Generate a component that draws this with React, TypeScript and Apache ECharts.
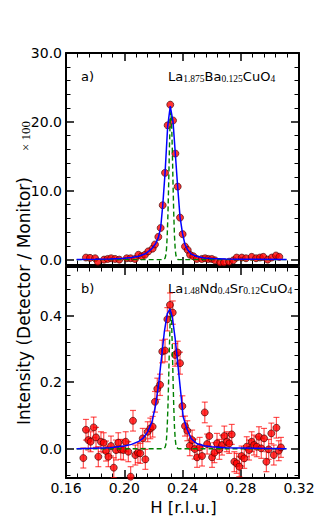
import React, { useEffect, useRef } from 'react';
import * as echarts from 'echarts';

// ---- Panel a) La1.875Ba0.125CuO4 (intensity x100) ----
const topH = [0.1737,0.1765,0.1800,0.1818,0.1861,0.1886,0.1910,0.1937,0.1966,0.2017,0.2044,0.2074,0.2097,0.2120,0.2142,0.2165,0.2195,0.2211,0.2234,0.2250,0.2264,0.2280,0.2298,0.2316,0.2335,0.2351,0.2367,0.2383,0.2401,0.2417,0.2436,0.2452,0.2474,0.2498,0.2532,0.2555,0.2577,0.2601,0.2623,0.2658,0.2685,0.2720,0.2749,0.2772,0.2807,0.2836,0.2875,0.2905,0.2932,0.2955,0.2985,0.3013,0.3042,0.3065];
const topI = [0.3,0.25,0.2,-0.3,0.0,0.1,0.2,0.1,0.0,0.2,0.2,0.1,0.7,0.5,0.7,1.2,1.6,2.2,3.3,4.6,7.9,12.6,19.5,22.5,20.2,15.4,10.6,6.1,3.7,1.9,1.4,0.7,0.5,0.1,0.1,0.2,0.1,0.1,-0.1,-0.4,-0.4,-0.3,-0.1,0.3,0.3,0.2,0.4,0.2,0.3,0.4,0.0,0.3,0.6,0.4];

const blueTopH = [0.1673,0.180,0.190,0.200,0.205,0.210,0.215,0.219,0.2215,0.2234,0.2250,0.2264,0.2280,0.2298,0.2316,0.2335,0.2351,0.2367,0.2383,0.2400,0.2417,0.2436,0.2460,0.2500,0.2550,0.2600,0.2700,0.2800,0.3115];
const blueTopI = [0.03,0.06,0.10,0.20,0.30,0.50,0.90,1.6,2.3,3.2,4.6,7.8,12.5,19.3,22.3,20.0,15.3,10.5,6.2,3.8,2.2,1.4,0.8,0.45,0.25,0.15,0.08,0.05,0.02];

const greenH = [0.1673,0.227,0.228,0.2285,0.229,0.2295,0.230,0.2305,0.231,0.2315,0.232,0.2325,0.233,0.2335,0.234,0.2345,0.235,0.2355,0.236,0.237,0.3115];
const greenTopI = [0,0,0.2,0.6,1.5,3.4,6.6,11.0,16.0,20.0,21.5,20.0,16.0,11.0,6.6,3.4,1.5,0.6,0.2,0,0];

// ---- Panel b) La1.48Nd0.4Sr0.12CuO4 ----
const botH = [0.1719,0.1737,0.1753,0.1769,0.1790,0.1806,0.1822,0.1840,0.1859,0.1875,0.1891,0.1909,0.1928,0.1943,0.1959,0.1976,0.1994,0.2010,0.2028,0.2044,0.2060,0.2076,0.2094,0.2110,0.2127,0.2145,0.2161,0.2179,0.2195,0.2211,0.2227,0.2246,0.2261,0.2280,0.2296,0.2314,0.2333,0.2349,0.2367,0.2383,0.2399,0.2417,0.2433,0.2450,0.2466,0.2484,0.2500,0.2518,0.2534,0.2553,0.2569,0.2584,0.2603,0.2619,0.2637,0.2653,0.2671,0.2687,0.2704,0.2721,0.2738,0.2756,0.2772,0.2790,0.2806,0.2824,0.2841,0.2857,0.2875,0.2891,0.2910,0.2925,0.2941,0.2960,0.2976,0.2992,0.3010,0.3027,0.3045,0.3061,0.3076];
const botV = [-0.028,0.057,0.026,0.021,0.064,0.034,-0.024,0.021,0.018,-0.007,-0.024,0.008,-0.057,-0.004,0.018,-0.002,-0.004,0.021,-0.009,-0.084,0.084,-0.019,-0.012,-0.014,0.031,-0.032,0.051,0.061,0.066,0.141,0.180,0.192,0.292,0.295,0.389,0.432,0.409,0.282,0.289,0.257,0.128,0.068,0.054,0.009,0.026,-0.001,-0.026,0.004,-0.022,0.109,0.014,0.038,-0.026,-0.012,0.016,-0.002,0.011,0.038,0.021,0.016,0.043,-0.039,-0.044,-0.054,-0.022,-0.029,0.006,-0.004,0.021,0.011,0.006,0.036,0.001,0.031,-0.039,-0.002,0.046,-0.019,0.063,-0.006,0.004];
const botErr = [0.030,0.031,0.030,0.030,0.031,0.030,0.030,0.030,0.030,0.030,0.030,0.030,0.030,0.030,0.030,0.030,0.030,0.030,0.030,0.030,0.031,0.030,0.030,0.030,0.030,0.030,0.030,0.031,0.031,0.031,0.032,0.032,0.034,0.034,0.035,0.036,0.035,0.034,0.034,0.033,0.031,0.030,0.030,0.030,0.030,0.030,0.030,0.030,0.030,0.031,0.030,0.030,0.030,0.030,0.030,0.030,0.030,0.030,0.030,0.030,0.030,0.030,0.030,0.030,0.030,0.030,0.030,0.030,0.030,0.030,0.030,0.030,0.030,0.030,0.030,0.030,0.031,0.030,0.031,0.030,0.030];

const blueBotH = [0.1673,0.190,0.200,0.205,0.210,0.213,0.216,0.219,0.2215,0.2235,0.2255,0.2275,0.2295,0.2314,0.2330,0.2350,0.2370,0.2390,0.2405,0.2430,0.2460,0.2500,0.2550,0.2600,0.2700,0.3115];
const blueBotV = [0.000,0.003,0.008,0.013,0.022,0.032,0.050,0.080,0.130,0.190,0.270,0.350,0.405,0.420,0.395,0.330,0.245,0.160,0.095,0.060,0.030,0.015,0.009,0.006,0.003,0.000];
const greenBotV = [0,0,0.004,0.011,0.029,0.065,0.126,0.21,0.305,0.381,0.41,0.381,0.305,0.21,0.126,0.065,0.029,0.011,0.004,0,0];

// ---- ticks ----
const xMin = 0.16, xMax = 0.32, xStep = 0.04;
const topMajor = [0, 10, 20, 30];
const topMinor = [2, 4, 6, 8, 12, 14, 16, 18, 22, 24, 26, 28];
const botMajor = [0, 0.2, 0.4];
const botMinor = [-0.08, -0.04, 0.04, 0.08, 0.12, 0.16, 0.24, 0.28, 0.32, 0.36, 0.44, 0.48, 0.52];

const SANS = 'DejaVu Sans';
const SERIF = 'Liberation Serif';

function pairs(a: number[], b: number[]) {
  return a.map((v, i) => [v, b[i]]);
}

function xAxesFor(grid: number, labels: boolean) {
  const base = (pos: string, showLab: boolean) => ({
    type: 'value', gridIndex: grid, min: xMin, max: xMax, interval: xStep, position: pos,
    axisLine: { show: true, onZero: false, lineStyle: { color: '#000', width: 2 } },
    axisTick: { show: true, inside: true, length: 8, lineStyle: { color: '#000', width: 1.5 } },
    minorTick: { show: true, splitNumber: 5, length: 4.5, lineStyle: { color: '#000', width: 1 } },
    axisLabel: { show: showLab, fontFamily: SANS, fontSize: 14, color: '#000', margin: 3, showMinLabel: true, showMaxLabel: true, formatter: (v: number) => v.toFixed(2) },
    splitLine: { show: false }, minorSplitLine: { show: false },
  });
  return [base('bottom', labels), base('top', false)];
}

function yAxesFor(grid: number, min: number, max: number, major: number[], minor: number[]) {
  const mk = (pos: string, vals: number[], isMajor: boolean, lab: boolean) => ({
    type: 'value', gridIndex: grid, min, max, position: pos,
    axisLine: { show: isMajor, onZero: false, lineStyle: { color: '#000', width: 2 } },
    axisTick: { show: true, inside: true, customValues: vals, length: isMajor ? 8 : 4.5, lineStyle: { color: '#000', width: isMajor ? 1.5 : 1 } },
    axisLabel: { show: lab, customValues: vals, fontFamily: SANS, fontSize: 14, color: '#000', margin: 4, formatter: (v: number) => v.toFixed(1) },
    splitLine: { show: false },
  });
  return [mk('left', major, true, true), mk('left', minor, false, false), mk('right', major, true, false), mk('right', minor, false, false)];
}

export default function App() {
  const ref = useRef<HTMLDivElement>(null);
  useEffect(() => {
    const chart = echarts.init(ref.current!, null, { renderer: 'svg' });
    const markerStyle = { color: '#ff0000', borderColor: '#3a0000', borderWidth: 0.8 };
    const blue = { color: '#0000ff', width: 1.5 };
    const green = { color: '#008000', width: 1.4, type: [5, 3] as any };
    const option: any = {
      animation: false,
      backgroundColor: '#fff',
      grid: [
        { left: 66, right: 33, top: 53, height: 212, outerBoundsMode: 'none' },
        { left: 66, right: 33, top: 267, height: 211, outerBoundsMode: 'none' },
      ],
      xAxis: [...xAxesFor(0, false), ...xAxesFor(1, true)],
      yAxis: [...yAxesFor(0, -0.78, 30, topMajor, topMinor), ...yAxesFor(1, -0.088, 0.546, botMajor, botMinor)],
      series: [
        { type: 'scatter', xAxisIndex: 0, yAxisIndex: 0, data: pairs(topH, topI), symbolSize: 7, itemStyle: markerStyle, z: 2 },
        { type: 'line', xAxisIndex: 0, yAxisIndex: 0, data: pairs(greenH, greenTopI), showSymbol: false, symbol: 'none', lineStyle: green, z: 3 },
        { type: 'line', xAxisIndex: 0, yAxisIndex: 0, data: pairs(blueTopH, blueTopI), showSymbol: false, symbol: 'none', lineStyle: blue, z: 4 },
        {
          type: 'custom', xAxisIndex: 2, yAxisIndex: 4, clip: true, z: 1,
          data: botH.map((h, i) => [h, botV[i], botErr[i]]),
          encode: { x: 0, y: 1 },
          renderItem: (_p: any, api: any) => {
            const x = api.value(0), y = api.value(1), e = api.value(2);
            const a = api.coord([x, y - e]);
            const b = api.coord([x, y + e]);
            const st = { stroke: 'rgba(255,0,0,0.68)', lineWidth: 1.2 };
            return {
              type: 'group',
              children: [
                { type: 'line', shape: { x1: a[0], y1: a[1], x2: b[0], y2: b[1] }, style: st },
                { type: 'line', shape: { x1: a[0] - 3, y1: a[1], x2: a[0] + 3, y2: a[1] }, style: st },
                { type: 'line', shape: { x1: b[0] - 3, y1: b[1], x2: b[0] + 3, y2: b[1] }, style: st },
              ],
            };
          },
        },
        { type: 'scatter', xAxisIndex: 2, yAxisIndex: 4, data: pairs(botH, botV), symbolSize: 7, itemStyle: markerStyle, z: 2 },
        { type: 'line', xAxisIndex: 2, yAxisIndex: 4, data: pairs(greenH, greenBotV), showSymbol: false, symbol: 'none', lineStyle: green, z: 3 },
        { type: 'line', xAxisIndex: 2, yAxisIndex: 4, data: pairs(blueBotH, blueBotV), showSymbol: false, symbol: 'none', lineStyle: blue, z: 4 },
      ],
      graphic: [
        { type: 'text', x: 81, y: 76, style: { text: 'a)', fontFamily: SANS, fontSize: 13, fill: '#000', verticalAlign: 'middle' } },
        {
          type: 'text', x: 168, y: 68,
          style: {
            text: '{m|La}{s|1.875}{m|Ba}{s|0.125}{m|CuO}{s|4}', fill: '#000', verticalAlign: 'top',
            rich: {
              m: { fontFamily: SANS, fontSize: 13, lineHeight: 16, verticalAlign: 'middle', fill: '#000' },
              s: { fontFamily: SERIF, fontSize: 9.5, lineHeight: 6, verticalAlign: 'bottom', fill: '#000' },
            },
          },
        },
        { type: 'text', x: 81, y: 288, style: { text: 'b)', fontFamily: SANS, fontSize: 13, fill: '#000', verticalAlign: 'middle' } },
        {
          type: 'text', x: 168, y: 280,
          style: {
            text: '{m|La}{s|1.48}{m|Nd}{s|0.4}{m|Sr}{s|0.12}{m|CuO}{s|4}', fill: '#000', verticalAlign: 'top',
            rich: {
              m: { fontFamily: SANS, fontSize: 13, lineHeight: 16, verticalAlign: 'middle', fill: '#000' },
              s: { fontFamily: SERIF, fontSize: 9.5, lineHeight: 6, verticalAlign: 'bottom', fill: '#000' },
            },
          },
        },
        {
          type: 'text', x: 24, y: 301, rotation: Math.PI / 2,
          style: { text: 'Intensity (Detector / Monitor)', fontFamily: SANS, fontSize: 17, fill: '#000', align: 'center', verticalAlign: 'middle' },
        },
        {
          type: 'text', x: 25, y: 136, rotation: Math.PI / 2,
          style: { text: '× 100', fontFamily: SERIF, fontSize: 13, fill: '#000', align: 'center', verticalAlign: 'middle' },
        },
        { type: 'text', x: 183.5, y: 507, style: { text: 'H [r.l.u.]', fontFamily: SANS, fontSize: 16.5, fill: '#000', align: 'center', verticalAlign: 'middle' } },
      ],
    };
    chart.setOption(option);
    return () => chart.dispose();
  }, []);
  return <div ref={ref} style={{ position: 'fixed', left: 0, top: 0, width: 332, height: 532 }} />;
}
